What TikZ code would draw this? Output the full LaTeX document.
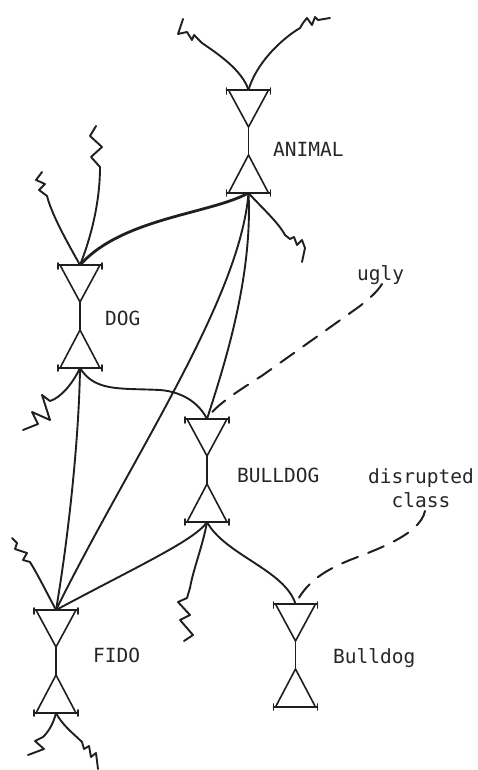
\documentclass[tikz,border=0pt]{standalone}
\usepackage{fontspec}
\newfontfamily\typefont{DejaVu Sans Mono}
\begin{document}
\begin{tikzpicture}[x=1pt,y=-1pt,
  ink/.style={line width=1.9pt,line cap=round,line join=round,draw=black!88},
  heavy/.style={ink,line width=2.8pt},
  glass/.style={line width=1.6pt,line cap=round,line join=round,draw=black!88},
  note/.style={ink,line width=2pt,dash pattern=on 17pt off 11pt},
  label/.style={font=\typefont\fontsize{19.5}{22}\selectfont,text=black!85,inner sep=0pt},
  hourglass/.pic={
    % upper, downward triangle with its bar
    \draw[glass] (-22,0) -- (22,0);
    \draw[glass] (-22,-2) -- (-22,4) (22,-2) -- (22,4);
    \draw[glass] (-20,0) -- (0,37) -- (20,0);
    % stem
    \draw[glass] (0,37) -- (0,65);
    % lower, upward triangle with its bar
    \draw[glass] (-20,103) -- (0,65) -- (20,103);
    \draw[glass] (-22,103) -- (22,103);
    \draw[glass] (-22,100) -- (-22,106) (22,100) -- (22,106);
    \coordinate (-in) at (0,0);
    \coordinate (-out) at (0,103);
  }]
\useasboundingbox (0,0) rectangle (478,770);

% class nodes
\pic (animal) at (248.5,90) {hourglass};
\pic (dog) at (80,265) {hourglass};
\pic (bulldog) at (207,419) {hourglass};
\pic (fido) at (56,610) {hourglass};
\pic (bulldogb) at (295.5,604) {hourglass};

% labels
\node[label,anchor=base west] (lanimal) at (273,157) {ANIMAL};
\node[label,anchor=base west] (ldog) at (105,325) {DOG};
\node[label,anchor=base west] (lbulldog) at (237,482) {BULLDOG};
\node[label,anchor=base west] (lfido) at (93,662) {FIDO};
\node[label,anchor=base west] (lbulldogb) at (333,663) {Bulldog};
\node[label,anchor=base west] (lugly) at (357,280) {ugly};
\node[label,anchor=base] (ldisrupted) at (421,483) {disrupted};
\node[label,anchor=base] (lclass) at (421,507) {class};

% loose ends (zigzags)
\coordinate (animal-zl) at (202,43);
\coordinate (animal-zr) at (300,28);
\coordinate (animal-zd) at (285,235);
\coordinate (dog-zl) at (47,196);
\coordinate (dog-zt) at (100,167);
\coordinate (dog-zd) at (50,401);
\coordinate (bulldog-zd) at (190,588);
\coordinate (fido-zt) at (30,562);
\coordinate (fido-zl) at (43,737);
\coordinate (fido-zr) at (82,742);
\coordinate (ugly-end) at (382,284);
\coordinate (class-end) at (425,511);

% ANIMAL
\draw[ink] (animal-in) .. controls (242,70) and (218,54) .. (animal-zl)
  -- (194,35) -- (192,40) -- (187,32) -- (178,34) -- (183,19);
\draw[ink] (animal-in) .. controls (256,64) and (280,40) .. (animal-zr)
  -- (303,23) -- (307,18) -- (312,25) -- (315,17) -- (318,20) -- (330,18);
\draw[heavy] (animal-out) .. controls (210,214) and (122,218) .. (dog-in);
\draw[ink] (animal-out) .. controls (262,208) and (278,222) .. (animal-zd)
  -- (290,239) -- (294,237) -- (297,245) -- (302,240) -- (305,248) -- (302,262);
\draw[ink] (animal-out) .. controls (240,300) and (130,460) .. (fido-in);
\draw[ink] (animal-out) .. controls (253,280) and (222,372) .. (bulldog-in);

% DOG
\draw[ink] (dog-in) .. controls (66,240) and (52,215) .. (dog-zl)
  -- (39,190) -- (45,184) -- (36,180) -- (42,172);
\draw[ink] (dog-in) .. controls (92,235) and (100,200) .. (dog-zt)
  -- (91,157) -- (102,147) -- (90,136) -- (96,126);
\draw[ink] (dog-out) .. controls (72,385) and (60,398) .. (dog-zd)
  -- (42,395) -- (50,420) -- (32,412) -- (38,424) -- (23,430);
\draw[ink] (dog-out) .. controls (79,440) and (68,540) .. (fido-in);
\draw[ink] (dog-out) .. controls (95,392) and (120,388) .. (160,390)
  .. controls (185,392) and (200,405) .. (bulldog-in);

% BULLDOG
\draw[note] (ugly-end) .. controls (377,292) and (370,298) .. (360,306)
  -- (263,375) .. controls (240,390) and (215,405) .. (bulldog-in);
\draw[ink] (bulldog-out) .. controls (195,540) and (140,565) .. (fido-in);
\draw[ink] (bulldog-out) .. controls (203,545) and (193,570) .. (bulldog-zd)
  -- (187,598) -- (178,602) -- (190,615) -- (180,620) -- (193,635) -- (184,641);
\draw[ink] (bulldog-out) .. controls (225,555) and (285,570) .. (bulldogb-in);

% Bulldog
\draw[note] (class-end) .. controls (420,535) and (375,550) .. (350,560)
  .. controls (320,572) and (305,585) .. (bulldogb-in);

% FIDO
\draw[ink] (fido-in) .. controls (48,595) and (38,575) .. (fido-zt)
  -- (23,560) -- (27,553) -- (15,549) -- (17,543) -- (12,538);
\draw[ink] (fido-out) .. controls (53,725) and (48,732) .. (fido-zl)
  -- (35,741) -- (44,749) -- (28,755);
\draw[ink] (fido-out) .. controls (62,725) and (75,735) .. (fido-zr)
  -- (84,749) -- (89,746) -- (91,757) -- (96,753) -- (98,769);
\end{tikzpicture}
\end{document}
